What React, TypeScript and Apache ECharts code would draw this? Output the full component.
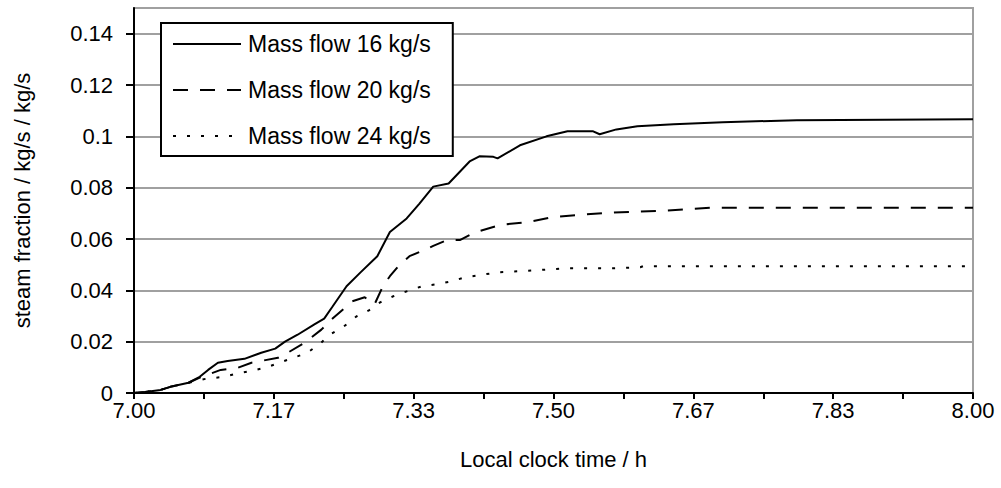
import React, { useEffect, useRef } from "react";
import * as echarts from "echarts";

// minutes after 7:00 and steam fraction values
const flow16: [number, number][] = [
  [0, 0], [0.8, 0.0004], [1.9, 0.0012], [2.6, 0.0024], [3.9, 0.004], [4.7, 0.0063],
  [5.3, 0.009], [6, 0.0118], [6.7, 0.0125], [7.9, 0.0133], [9.1, 0.0157], [10.1, 0.0173],
  [10.8, 0.02], [11.7, 0.0227], [12.9, 0.0267], [13.6, 0.029], [14.2, 0.0337], [15.2, 0.0416],
  [16.2, 0.047], [17.4, 0.0533], [18.3, 0.0627], [19.5, 0.068], [20.4, 0.0737], [21.4, 0.0804],
  [22.5, 0.0816], [24, 0.0902], [24.7, 0.0922], [25.7, 0.092], [26, 0.0914], [27.6, 0.0965],
  [29.5, 0.1], [31, 0.102], [32.8, 0.102], [33.3, 0.1008], [34.5, 0.1027], [36, 0.1039],
  [38.6, 0.1047], [42.1, 0.1055], [47.4, 0.1063], [60, 0.1067],
];

const flow20: [number, number][] = [
  [0, 0], [0.8, 0.0004], [1.9, 0.0012], [2.6, 0.0024], [3.9, 0.004], [4.7, 0.006],
  [6.2, 0.009], [7.4, 0.0098], [8.4, 0.0118], [10.3, 0.0137], [11, 0.0157], [12.2, 0.0196],
  [13.4, 0.0247], [14.2, 0.029], [15.6, 0.0357], [16.5, 0.0373], [17.2, 0.0345], [17.8, 0.0416],
  [18.3, 0.0455], [19, 0.05], [19.7, 0.0533], [20.9, 0.056], [21.4, 0.0573], [22.4, 0.0596],
  [23.3, 0.0596], [24.3, 0.0624], [26.2, 0.0655], [28.3, 0.0667], [30, 0.0686], [31.9, 0.0694],
  [33.8, 0.0702], [35.7, 0.0706], [37.8, 0.071], [41.2, 0.0722], [60, 0.0722],
];

const flow24: [number, number][] = [
  [0, 0], [0.8, 0.0004], [1.9, 0.0012], [2.6, 0.0024], [3.9, 0.004], [5.1, 0.0055],
  [6.4, 0.0063], [7.3, 0.0075], [8.4, 0.0086], [9.6, 0.0102], [10.4, 0.0118], [11.4, 0.0137],
  [12.4, 0.0157], [13.3, 0.0192], [14, 0.0227], [15, 0.0259], [15.9, 0.0298], [16.8, 0.0322],
  [17.6, 0.0353], [18.5, 0.0376], [19.5, 0.0396], [20.6, 0.0416], [21.7, 0.0424], [22.7, 0.0435],
  [23.7, 0.0451], [24.7, 0.0459], [26, 0.047], [27.8, 0.0475], [31, 0.0486], [34.3, 0.0486],
  [36.2, 0.049], [36.4, 0.0494], [60, 0.0494],
];

const seriesNames = ["Mass flow 16 kg/s", "Mass flow 20 kg/s", "Mass flow 24 kg/s"];
const yTickValues = [0, 0.02, 0.04, 0.06, 0.08, 0.1, 0.12, 0.14];
const startHour = 7;

const FONT = "'Liberation Sans', Arial, sans-serif";

export default function App() {
  const ref = useRef<HTMLDivElement>(null);
  useEffect(() => {
    if (!ref.current) return;
    const chart = echarts.init(ref.current, undefined, { renderer: "svg" });
    const lineStyles: any[] = [
      { color: "#000", width: 2, type: "solid" },
      { color: "#000", width: 2, type: [15, 12] },
      { color: "#000", width: 2, type: [3, 11] },
    ];
    const datasets = [flow16, flow20, flow24];
    chart.setOption({
      animation: false,
      backgroundColor: "#fff",
      textStyle: { fontFamily: FONT, color: "#000" },
      grid: {
        left: 134,
        right: 28,
        top: 8,
        bottom: 95,
        show: true,
        borderColor: "#a0a0a0",
        borderWidth: 2,
        backgroundColor: "transparent",
      },
      legend: {
        orient: "vertical",
        left: 161,
        top: 23,
        padding: [9, 22, 8, 11],
        itemWidth: 68,
        itemHeight: 14,
        itemGap: 22,
        borderColor: "#000",
        borderWidth: 2,
        backgroundColor: "#fff",
        itemStyle: { opacity: 0 },
        textStyle: { fontFamily: FONT, fontSize: 23, color: "#000", lineHeight: 24, padding: [0, 0, 0, 2] },
        data: seriesNames,
      },
      xAxis: {
        type: "value",
        min: 0,
        max: 60,
        interval: 5,
        name: "Local clock time / h",
        nameLocation: "middle",
        nameGap: 55,
        nameTextStyle: { fontFamily: FONT, fontSize: 22, color: "#000" },
        axisLine: { lineStyle: { color: "#000", width: 2 } },
        axisTick: { show: true, inside: false, length: 6, lineStyle: { color: "#000", width: 2 } },
        axisLabel: {
          margin: 6,
          fontFamily: FONT,
          fontSize: 22,
          color: "#000",
          formatter: (v: number) => (v % 10 === 0 ? (startHour + v / 60).toFixed(2) : ""),
        },
        splitLine: { show: false },
      },
      yAxis: {
        type: "value",
        min: 0,
        max: 0.15,
        interval: 0.02,
        name: "steam fraction / kg/s / kg/s",
        nameLocation: "middle",
        nameGap: 101,
        nameTextStyle: { fontFamily: FONT, fontSize: 22, color: "#000" },
        axisLine: { show: true, lineStyle: { color: "#000", width: 2 } },
        axisTick: {
          show: true,
          inside: false,
          length: 8,
          customValues: yTickValues,
          lineStyle: { color: "#000", width: 2 },
        },
        axisLabel: {
          margin: 21,
          fontFamily: FONT,
          fontSize: 22,
          color: "#000",
          customValues: yTickValues,
          formatter: (v: number) => String(Math.round(v * 100) / 100),
        },
        splitLine: { show: true, lineStyle: { color: "#a0a0a0", width: 2 } },
      },
      series: datasets.map((d, i) => ({
        name: seriesNames[i],
        type: "line",
        data: d,
        showSymbol: false,
        symbol: "none",
        smooth: false,
        color: "#000",
        lineStyle: lineStyles[i],
      })),
    });
    return () => chart.dispose();
  }, []);
  return (
    <div
      ref={ref}
      style={{ position: "absolute", left: 0, top: 0, width: 1001, height: 488, background: "#fff" }}
    />
  );
}
